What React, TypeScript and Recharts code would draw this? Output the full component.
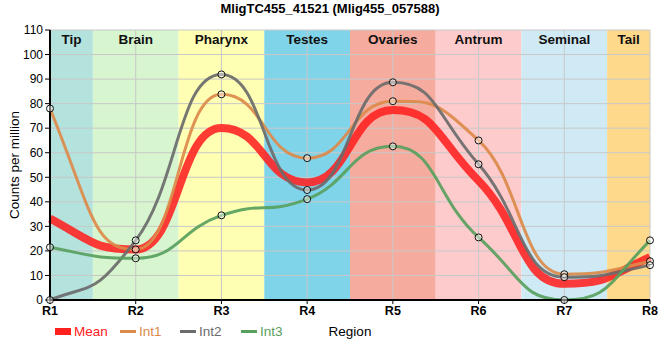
import React from 'react';
import {
  LineChart, Line, XAxis, YAxis, CartesianGrid, ReferenceArea,
} from 'recharts';

const regions = ['R1', 'R2', 'R3', 'R4', 'R5', 'R6', 'R7', 'R8'];
const tissues = ['Tip', 'Brain', 'Pharynx', 'Testes', 'Ovaries', 'Antrum', 'Seminal', 'Tail'];
const tissueColors = ['#b4e2dd', '#d7f5cf', '#ffffb4', '#80d4ea', '#f5ab9d', '#fdcbcc', '#cfeaf4', '#fed98b'];

const int1 = [78, 20.6, 83.8, 57.8, 81, 65, 10.5, 15.8];
const int2 = [0, 24.3, 91.9, 44.8, 88.7, 55.3, 9.3, 14.2];
const int3 = [21.5, 17, 34.5, 41.1, 62.6, 25.5, 0, 24.3];
const mean = [33.2, 20.6, 70.1, 47.9, 77.4, 48.6, 6.6, 17.5];

const yTicks = [0, 10, 20, 30, 40, 50, 60, 70, 80, 90, 100, 110];

const seriesInfo = [
  { key: 'mean', name: 'Mean', color: '#ff2020', width: 8, dots: false, legendLeft: 55 },
  { key: 'int1', name: 'Int1', color: '#dc8a4a', width: 3, dots: true, legendLeft: 120 },
  { key: 'int2', name: 'Int2', color: '#6b6b6b', width: 3, dots: true, legendLeft: 180 },
  { key: 'int3', name: 'Int3', color: '#58a05e', width: 3, dots: true, legendLeft: 241 },
];

const data = regions.map((r, i) => ({
  x: i + 1,
  mean: mean[i],
  int1: int1[i],
  int2: int2[i],
  int3: int3[i],
}));

const FONT = '"Liberation Sans", Arial, sans-serif';

// Smooth monotone curve with long horizontal-ish handles (d3 curve factory)
const smoothCurve = (context: any) => {
  let xs: number[] = [];
  let ys: number[] = [];
  const A = 0.5;
  return {
    areaStart() {},
    areaEnd() {},
    lineStart() { xs = []; ys = []; },
    point(x: number, y: number) { xs.push(+x); ys.push(+y); },
    lineEnd() {
      const n = xs.length;
      if (!n) return;
      context.moveTo(xs[0], ys[0]);
      if (n === 1) return;
      if (n === 2) { context.lineTo(xs[1], ys[1]); return; }
      const s: number[] = [];
      const m: number[] = new Array(n).fill(0);
      for (let i = 0; i < n - 1; i++) {
        const h = xs[i + 1] - xs[i];
        s.push(h ? (ys[i + 1] - ys[i]) / h : 0);
      }
      for (let i = 1; i < n - 1; i++) {
        const h0 = xs[i] - xs[i - 1];
        const h1 = xs[i + 1] - xs[i];
        const p = (s[i - 1] * h1 + s[i] * h0) / (h0 + h1);
        m[i] = (Math.sign(s[i - 1]) + Math.sign(s[i])) *
          Math.min(Math.abs(s[i - 1]), Math.abs(s[i]), 0.5 * Math.abs(p)) || 0;
      }
      m[0] = (3 * s[0] - m[1]) / 2;
      m[n - 1] = (3 * s[n - 2] - m[n - 2]) / 2;
      for (let i = 0; i < n - 1; i++) {
        const dx = xs[i + 1] - xs[i];
        context.bezierCurveTo(
          xs[i] + A * dx, ys[i] + A * dx * m[i],
          xs[i + 1] - A * dx, ys[i + 1] - A * dx * m[i + 1],
          xs[i + 1], ys[i + 1],
        );
      }
    },
  };
};

const LegendBox = () => (
  <>
    {seriesInfo.map((s) => (
      <div
        key={s.key}
        style={{
          position: 'absolute', left: s.legendLeft, top: 322, height: 18,
          display: 'flex', alignItems: 'center', fontFamily: FONT, fontSize: 13.5,
        }}
      >
        <span
          style={{
            display: 'inline-block',
            width: 16,
            height: s.key === 'mean' ? 7 : 3,
            background: s.color,
            marginRight: 3,
          }}
        />
        <span style={{ color: s.color }}>{s.name}</span>
      </div>
    ))}
  </>
);

export default function App() {
  return (
    <div style={{ position: 'absolute', left: 0, top: 0, width: 660, height: 360, background: '#fff' }}>
      <div
        style={{
          position: 'absolute', left: 0, top: 1, width: 660, textAlign: 'center',
          fontFamily: FONT, fontWeight: 'bold', fontSize: 13, color: '#000',
        }}
      >
        MligTC455_41521 (Mlig455_057588)
      </div>
      <LineChart
        width={660}
        height={360}
        data={data}
        margin={{ top: 30, right: 10, left: 0, bottom: 30 }}
        style={{ fontFamily: FONT }}
      >
        {tissues.map((t, i) => (
          <ReferenceArea
            key={t}
            x1={Math.max(1, i + 0.5)}
            x2={Math.min(regions.length, i + 1.5)}
            y1={0}
            y2={110}
            fill={tissueColors[i]}
            fillOpacity={1}
            stroke="none"
            zIndex={-200}
            label={{ value: t, position: 'insideTop', fill: '#111', fontSize: 13.5, fontWeight: 'bold', offset: 4 }}
          />
        ))}
        <CartesianGrid stroke="#c8c8c8" strokeWidth={1} />
        <XAxis
          dataKey="x"
          type="number"
          domain={[1, 8]}
          ticks={[1, 2, 3, 4, 5, 6, 7, 8]}
          tickFormatter={(v: number) => regions[v - 1]}
          height={30}
          axisLine={{ stroke: '#000', strokeWidth: 2 }}
          tickLine={{ stroke: '#000' }}
          tickSize={4}
          tick={{ fill: '#000', fontSize: 12.5, fontWeight: 'bold' }}
          interval={0}
          label={{ value: 'Region', position: 'insideBottom', offset: -6, fill: '#000', fontSize: 13.5 }}
        />
        <XAxis
          xAxisId="top"
          orientation="top"
          dataKey="x"
          type="number"
          domain={[1, 8]}
          height={0}
          tick={false}
          tickLine={false}
          axisLine={{ stroke: '#000', strokeWidth: 1.5 }}
        />
        <YAxis
          domain={[0, 110]}
          ticks={yTicks}
          width={50}
          interval={0}
          axisLine={{ stroke: '#000', strokeWidth: 2 }}
          tickLine={{ stroke: '#000' }}
          tickSize={5}
          tick={{ fill: '#000', fontSize: 12 }}
          label={{ value: 'Counts per million', angle: -90, position: 'center', dx: -11, fill: '#000', fontSize: 13.5 }}
        />
        <YAxis
          yAxisId="right"
          orientation="right"
          domain={[0, 110]}
          width={0}
          tick={false}
          tickLine={false}
          axisLine={{ stroke: '#000', strokeWidth: 1.5 }}
        />
        {seriesInfo.map((s) => (
          <Line
            key={s.key}
            type={smoothCurve as any}
            dataKey={s.key}
            name={s.name}
            stroke={s.color}
            strokeWidth={s.width}
            strokeOpacity={s.key === 'mean' ? 0.88 : 0.92}
            dot={s.dots ? { r: 3.5, stroke: '#000', strokeWidth: 1, fill: 'rgba(255,255,255,0.45)' } : false}
            activeDot={false}
            isAnimationActive={false}
          />
        ))}
      </LineChart>
      <LegendBox />
    </div>
  );
}
